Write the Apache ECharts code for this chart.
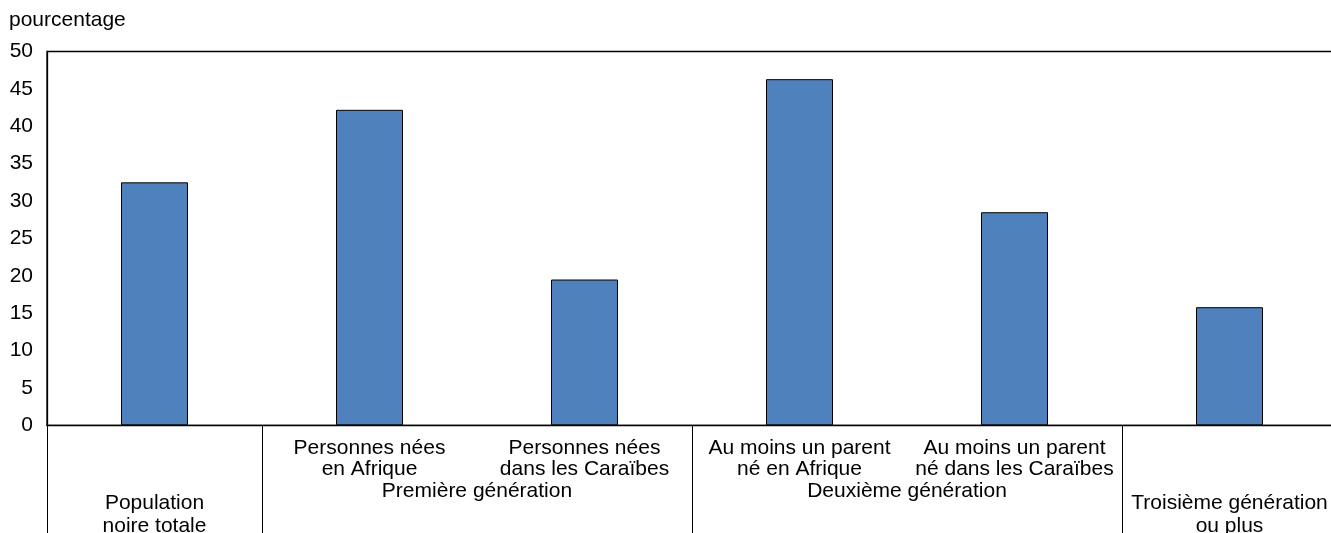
<!DOCTYPE html>
<html>
<head>
<meta charset="utf-8">
<script src="https://cdn.jsdelivr.net/npm/echarts@6/dist/echarts.min.js"></script>
<style>
html,body{margin:0;padding:0;background:#fff;overflow:hidden;}
#chart{width:1331px;height:533px;}
</style>
</head>
<body>
<div id="chart"></div>
<script>
// Categories (one bar each)
var categories = [
  'Population noire totale',
  'Personnes nées en Afrique',
  'Personnes nées dans les Caraïbes',
  'Au moins un parent né en Afrique',
  'Au moins un parent né dans les Caraïbes',
  'Troisième génération ou plus'
];
// Sub-category labels drawn under bars (empty where the category has no sub-level)
var subLabels = [
  '',
  'Personnes nées\nen Afrique',
  'Personnes nées\ndans les Caraïbes',
  'Au moins un parent\nné en Afrique',
  'Au moins un parent\nné dans les Caraïbes',
  ''
];
// Group labels and how many categories each group spans
var groupLabels = ['Population\nnoire totale', 'Première génération', 'Deuxième génération', 'Troisième génération\nou plus'];
var groupSpans = [1, 2, 2, 1];
// Series values (percent)
var values = [32.5, 42.2, 19.5, 46.3, 28.5, 15.8];
// Y axis ticks
var yMin = 0, yMax = 50, yStep = 5;
var yTitle = 'pourcentage';

// Derived: group centres and category start indices
var groupCenters = [], groupStarts = [], acc = 0;
for (var i = 0; i < groupSpans.length; i++) {
  groupStarts.push(acc);
  groupCenters.push(acc + groupSpans[i] / 2);
  acc += groupSpans[i];
}
var inner = {}, outer = {};
for (var g = 0; g < groupLabels.length; g++) {
  var key = groupCenters[g].toFixed(1);
  if (groupSpans[g] > 1) inner[key] = groupLabels[g]; else outer[key] = groupLabels[g];
}

var FONT = 'Arial, "Liberation Sans", sans-serif';
var FS = 21;
var chart = echarts.init(document.getElementById('chart'));
var labelAxisBase = {
  type: 'value', min: 0, max: categories.length, interval: 0.5,
  position: 'bottom',
  axisLine: {show: false}, axisTick: {show: false}, splitLine: {show: false},
  silent: true
};
chart.setOption({
  animation: false,
  backgroundColor: '#ffffff',
  title: {
    text: yTitle, left: 4, top: 5,
    textStyle: {fontFamily: FONT, fontSize: FS, fontWeight: 'normal', color: '#000'}
  },
  grid: {
    left: 47, width: 1290, top: 51.5, bottom: 107.7,
    outerBoundsMode: 'none', containLabel: false,
    show: true, borderColor: '#000', borderWidth: 1.3, backgroundColor: 'transparent'
  },
  xAxis: [
    {
      type: 'category', data: categories, position: 'bottom',
      axisLine: {show: true, lineStyle: {color: '#000', width: 1.3}},
      axisTick: {
        show: true, length: 115,
        lineStyle: {color: '#000', width: 1},
        interval: function (idx) { return groupStarts.indexOf(idx) >= 0; }
      },
      axisLabel: {
        interval: 0, margin: 12, fontFamily: FONT, fontSize: FS, lineHeight: 21, color: '#000',
        formatter: function (v, idx) { return subLabels[idx]; }
      }
    },
    Object.assign({}, labelAxisBase, {
      axisLabel: {
        margin: 55, fontFamily: FONT, fontSize: FS, lineHeight: 21, color: '#000',
        showMinLabel: true, showMaxLabel: true,
        formatter: function (v) { return inner[Number(v).toFixed(1)] || ''; }
      }
    }),
    Object.assign({}, labelAxisBase, {
      axisLabel: {
        margin: 66, fontFamily: FONT, fontSize: FS, lineHeight: 23, color: '#000',
        showMinLabel: true, showMaxLabel: true,
        formatter: function (v) { return outer[Number(v).toFixed(1)] || ''; }
      }
    })
  ],
  yAxis: {
    type: 'value', min: yMin, max: yMax, interval: yStep,
    axisLine: {show: true, lineStyle: {color: '#000', width: 1.3}},
    axisTick: {show: false},
    splitLine: {show: false},
    axisLabel: {margin: 14, fontFamily: FONT, fontSize: FS, color: '#000'}
  },
  series: [{
    type: 'bar', data: values, xAxisIndex: 0, barWidth: 67,
    itemStyle: {color: '#4F81BD', borderColor: '#000', borderWidth: 1}
  }]
});
</script>
</body>
</html>
